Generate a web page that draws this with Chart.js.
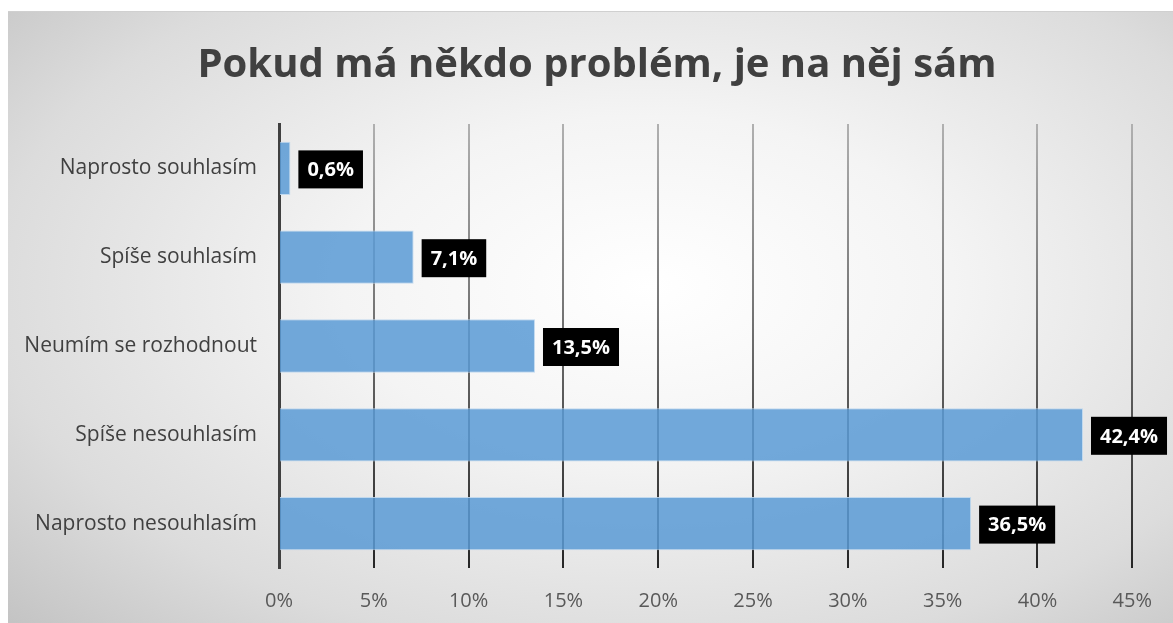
<!DOCTYPE html>
<html>
<head>
<meta charset="utf-8">
<script src="https://cdn.jsdelivr.net/npm/chart.js@4"></script>
<style>
    body { margin: 0; background: #ffffff; }
    #frame {
        position: absolute;
        left: 8px;
        top: 11px;
        width: 1165px;
        height: 612px;
        border-top: 1px solid #d0d0d0;
        box-sizing: border-box;
        background: radial-gradient(ellipse 75% 80% at 55% 45%, #ffffff 0%, #f4f4f4 35%, #dcdcdc 75%, #c4c4c4 100%);
    }
</style>
</head>
<body>
<div id="frame"><canvas id="chart" width="1165" height="611"></canvas></div>
<script>
const categories = [
    'Naprosto souhlasím',
    'Spíše souhlasím',
    'Neumím se rozhodnout',
    'Spíše nesouhlasím',
    'Naprosto nesouhlasím'
];
const shares = [0.6, 7.1, 13.5, 42.4, 36.5];
const tickValues = [0, 5, 10, 15, 20, 25, 30, 35, 40, 45];
const titleText = 'Pokud má někdo problém, je na něj sám';

const fontFamily = "'Open Sans', sans-serif";

function formatPct(v) {
    return v.toFixed(1).replace('.', ',') + '%';
}

// title drawn by hand so it is centred on the whole frame, not the padded box
const frameTitle = {
    id: 'frameTitle',
    beforeDraw(chart) {
        const ctx = chart.ctx;
        ctx.save();
        ctx.font = 'bold 40px ' + fontFamily;
        ctx.fillStyle = '#404040';
        ctx.textAlign = 'center';
        ctx.textBaseline = 'middle';
        ctx.fillText(titleText, 589, 54);
        ctx.restore();
    }
};

// black boxes with white value text, placed right after each bar
const valueBoxes = {
    id: 'valueBoxes',
    afterDatasetsDraw(chart) {
        const ctx = chart.ctx;
        const meta = chart.getDatasetMeta(0);
        ctx.save();
        ctx.font = 'bold 20px ' + fontFamily;
        ctx.textBaseline = 'middle';
        ctx.textAlign = 'left';
        meta.data.forEach((bar, i) => {
            const text = formatPct(shares[i]);
            const w = ctx.measureText(text).width + 18;
            const h = 38;
            const x = bar.x + 8;
            const y = bar.y - h / 2 + 1;
            ctx.fillStyle = '#000000';
            ctx.fillRect(x, y, w, h);
            ctx.fillStyle = '#ffffff';
            ctx.fillText(text, x + 9, bar.y + 2);
        });
        ctx.restore();
    }
};

function gridColor(context) {
    const chart = context.chart;
    const area = chart.chartArea;
    if (!area) return '#808080';
    const g = chart.ctx.createLinearGradient(0, area.top, 0, area.bottom);
    g.addColorStop(0, '#b0b0b0');
    g.addColorStop(0.5, '#6a6a6a');
    g.addColorStop(1, '#262626');
    return g;
}

const config = {
    type: 'bar',
    data: {
        labels: categories,
        datasets: [{
            data: shares,
            backgroundColor: 'rgba(91, 155, 213, 0.86)',
            borderColor: 'rgba(189, 215, 238, 0.9)',
            borderWidth: 1,
            borderSkipped: 'start',
            barPercentage: 0.6,
            categoryPercentage: 1.0
        }]
    },
    plugins: [frameTitle, valueBoxes],
    options: {
        indexAxis: 'y',
        responsive: false,
        animation: false,
        layout: {
            padding: { left: 0, right: 39, top: 112, bottom: 0 }
        },
        scales: {
            x: {
                min: 0,
                max: 45,
                afterBuildTicks: function(scale) {
                    scale.ticks = tickValues.map(v => ({ value: v }));
                },
                afterFit: function(scale) {
                    scale.height = 55;
                },
                grid: {
                    color: gridColor,
                    lineWidth: 2,
                    drawTicks: false
                },
                border: { display: false },
                ticks: {
                    padding: 21,
                    color: '#595959',
                    font: { family: fontFamily, size: 20 },
                    callback: function(value) {
                        return value + '%';
                    }
                }
            },
            y: {
                afterFit: function(scale) {
                    scale.width = 271;
                },
                grid: { display: false, drawTicks: false },
                border: { display: true, color: '#404040', width: 3 },
                ticks: {
                    padding: 22,
                    color: '#404040',
                    font: { family: fontFamily, size: 21 }
                }
            }
        },
        plugins: {
            legend: { display: false },
            tooltip: { enabled: false },
            title: { display: false }
        }
    }
};

new Chart(document.getElementById('chart').getContext('2d'), config);
</script>
</body>
</html>
